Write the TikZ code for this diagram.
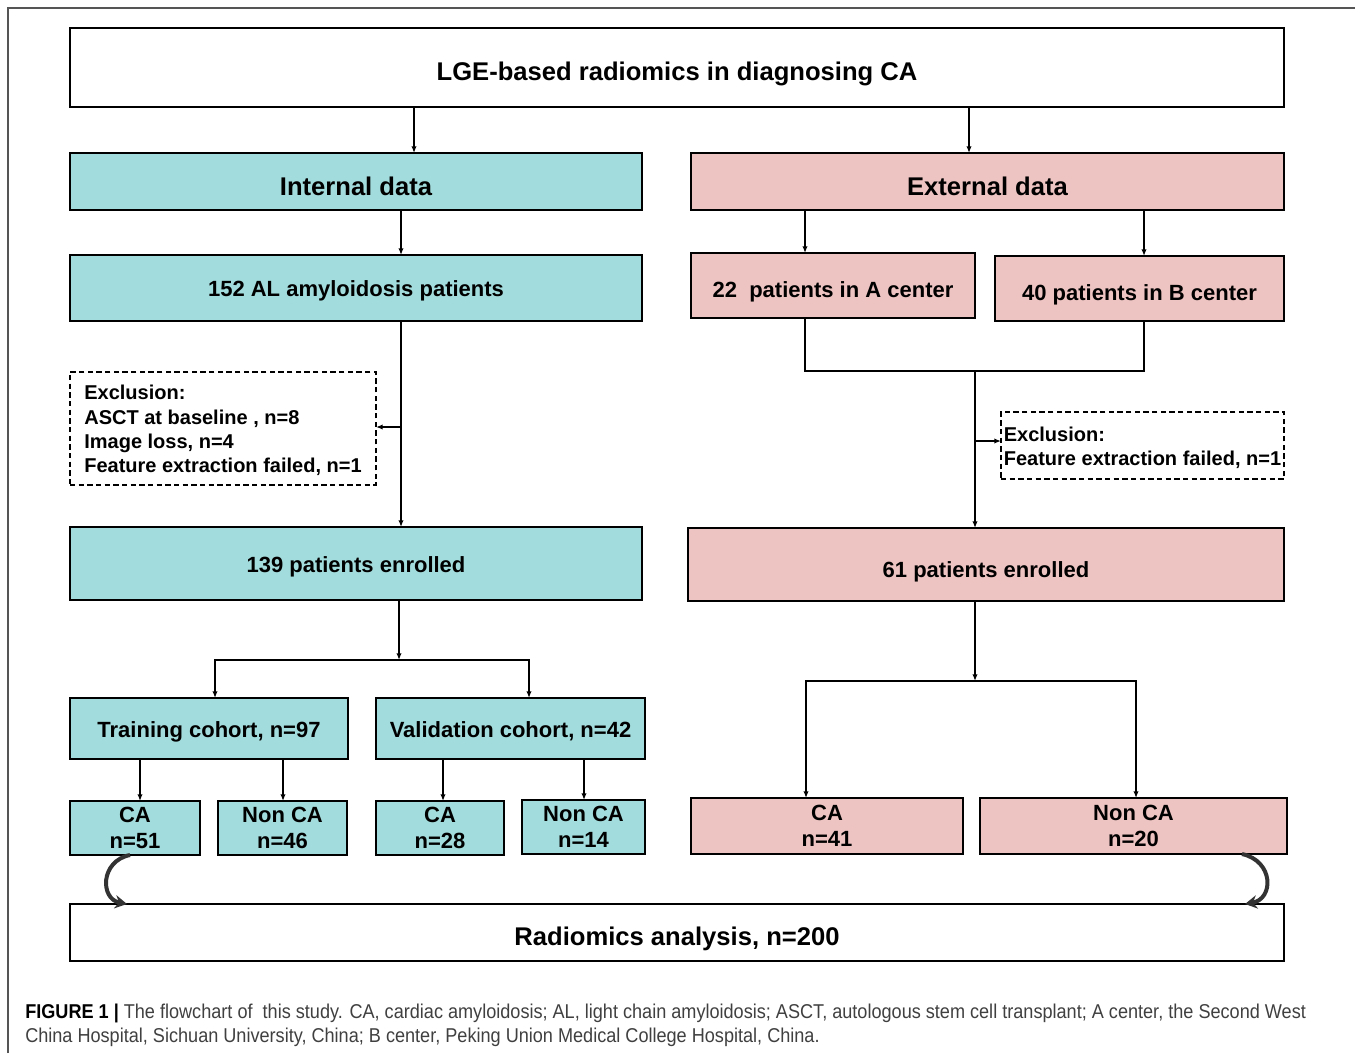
\documentclass[tikz,border=0pt]{standalone}
\usepackage{fontspec}
\setmainfont{Liberation Sans}
\newfontfamily\capfont[FakeStretch=0.905]{Liberation Sans}
\usetikzlibrary{arrows.meta,calc}
\definecolor{teal1}{HTML}{A3DCDC}
\definecolor{pink1}{HTML}{EEC4C2}
\definecolor{capgray}{HTML}{404040}
\definecolor{framegray}{HTML}{555555}
% box from pixel corners (x1,y1)-(x2,y2), text shifted down by dy px
\newcommand\bx[9][0]{%
  \node[#3, minimum width={(#6-#4)*0.75pt}, minimum height={(#7-#5)*0.75pt}]
    (#2) at ({(#4+#6)/2},{(#5+#7)/2}) {};
  \node[txt, #8] (#2-t) at ($(#2.center)+(0,#1)$) {#9};}
\begin{document}
\begin{tikzpicture}[x=0.75pt,y=-0.75pt,
  box/.style={draw=black, line width=1.5pt, inner sep=0pt, outer sep=0pt},
  tbox/.style={box, fill=teal1},
  pbox/.style={box, fill=pink1},
  excl/.style={draw=black, line width=1.2pt, dash pattern=on 4pt off 2.5pt, inner sep=0pt,
    outer sep=0pt},
  txt/.style={inner sep=0pt, align=center},
  hdr/.style={font=\fontsize{19.2}{23}\selectfont\bfseries},
  sub/.style={font=\fontsize{16.5}{19.5}\selectfont\bfseries},
  extx/.style={align=left, font=\fontsize{15}{18.2}\selectfont\bfseries},
  arr/.style={line width=1.1pt, -{Latex[length=5pt,width=4pt]}},
  ln/.style={line width=1.1pt},
  curv/.style={line width=3pt, draw=black!80, -{Stealth[length=9pt,width=10pt]}},
  captext/.style={anchor=base west, inner sep=0pt, text=capgray,
    font=\capfont\fontsize{15}{17}\selectfont}
]
\useasboundingbox (0,0) rectangle (1355,1053);
\fill[white] (0,0) rectangle (1355,1053);
\draw[framegray, line width=1.1pt] (8,1053) -- (8,8) -- (1355,8);

% nodes
\bx[6]{title}{box}{70}{28}{1284}{107}{hdr}{LGE-based radiomics in diagnosing CA}
\bx[5]{internal}{tbox}{70}{153}{642}{210}{hdr}{Internal data}
\bx[5]{external}{pbox}{691}{153}{1284}{210}{hdr}{External data}
\bx[3]{p152}{tbox}{70}{255}{642}{321}{sub}{152 AL amyloidosis patients}
\bx[6]{pA}{pbox}{691}{253}{975}{318}{sub}{22\ \ patients in A center}
\bx[6]{pB}{pbox}{995}{256}{1284}{321}{sub}{40 patients in B center}
\bx[2]{exL}{excl}{70}{372}{376}{485}{extx}{Exclusion:\\ASCT at baseline , n=8\\Image loss, n=4\\Feature extraction failed, n=1}
\bx[2]{exR}{excl}{1001}{412}{1284}{479}{extx}{Exclusion:\\Feature extraction failed, n=1}
\bx[3]{e139}{tbox}{70}{527}{642}{600}{sub}{139 patients enrolled}
\bx[7]{e61}{pbox}{688}{528}{1284}{601}{sub}{61 patients enrolled}
\bx[3]{train}{tbox}{70}{698}{348}{759}{sub}{Training cohort, n=97}
\bx[3]{valid}{tbox}{376}{698}{645}{759}{sub}{Validation cohort, n=42}
\bx[0]{ca51}{tbox}{70}{801}{200}{855}{sub}{CA\\n=51}
\bx[0]{nca46}{tbox}{218}{801}{347}{855}{sub}{Non CA\\n=46}
\bx[0]{ca28}{tbox}{376}{801}{504}{855}{sub}{CA\\n=28}
\bx[0]{nca14}{tbox}{522}{800}{645}{854}{sub}{Non CA\\n=14}
\bx[0]{ca41}{pbox}{691}{798}{963}{854}{sub}{CA\\n=41}
\bx[0]{nca20}{pbox}{980}{798}{1287}{854}{sub}{Non CA\\n=20}
\bx[6]{radio}{box}{70}{904}{1284}{961}{hdr}{Radiomics analysis, n=200}

% column coordinates
\coordinate (k414) at (414,0);
\coordinate (k969) at (969,0);
\coordinate (k401) at (401,0);
\coordinate (k805) at (805,0);
\coordinate (k1144) at (1144,0);
\coordinate (k215) at (215,0);
\coordinate (k529) at (529,0);
\coordinate (k140) at (140,0);
\coordinate (k283) at (283,0);
\coordinate (k443) at (443,0);
\coordinate (k584) at (584,0);
\coordinate (k806) at (806,0);
\coordinate (k1136) at (1136,0);
\coordinate (k130) at (130,0);
\coordinate (k127) at (127,0);
\coordinate (k1242) at (1242,0);
\coordinate (k1245) at (1245,0);
\coordinate (jL) at (401,427);
\coordinate (jR) at (975,371);
\coordinate (jR2) at (975,441);
\coordinate (sL) at (399,660);
\coordinate (sR) at (975,681);

% connectors
\draw[arr] (title.south -| k414) -- (internal.north -| k414);
\draw[arr] (title.south -| k969) -- (external.north -| k969);
\draw[arr] (internal.south -| k401) -- (p152.north -| k401);
\draw[arr] (external.south -| k805) -- (pA.north -| k805);
\draw[arr] (external.south -| k1144) -- (pB.north -| k1144);
\draw[arr] (p152.south -| k401) -- (e139.north -| k401);
\draw[arr] (jL) -- (exL.east |- jL);
\draw[ln] (pA.south -| k805) |- (jR) -| (pB.south -| k1144);
\draw[arr] (jR) -- (e61.north -| jR);
\draw[arr] (jR2) -- (exR.west |- jR2);
\draw[arr] (e139.south -| sL) -- (sL);
\draw[arr] (sL) -| (train.north -| k215);
\draw[arr] (sL) -| (valid.north -| k529);
\draw[arr] (train.south -| k140) -- (ca51.north -| k140);
\draw[arr] (train.south -| k283) -- (nca46.north -| k283);
\draw[arr] (valid.south -| k443) -- (ca28.north -| k443);
\draw[arr] (valid.south -| k584) -- (nca14.north -| k584);
\draw[arr] (e61.south -| sR) -- (sR);
\draw[arr] (sR) -| (ca41.north -| k806);
\draw[arr] (sR) -| (nca20.north -| k1136);

% curved arrows
\draw[curv] (ca51.south -| k130) .. controls (100,861) and (100,899) .. (radio.north -| k127);
\draw[curv] (nca20.south -| k1242) .. controls (1274,861) and (1274,899) .. (radio.north -| k1245);

% caption
\node[captext] (cap1) at (25,1018) {\textcolor{black}{\textbf{FIGURE 1 |}} The flowchart of\ \ this study. CA, cardiac amyloidosis; AL, light chain amyloidosis; ASCT, autologous stem cell transplant; A center, the Second West};
\node[captext] (cap2) at (25,1042) {China Hospital, Sichuan University, China; B center, Peking Union Medical College Hospital, China.};
\end{tikzpicture}
\end{document}
